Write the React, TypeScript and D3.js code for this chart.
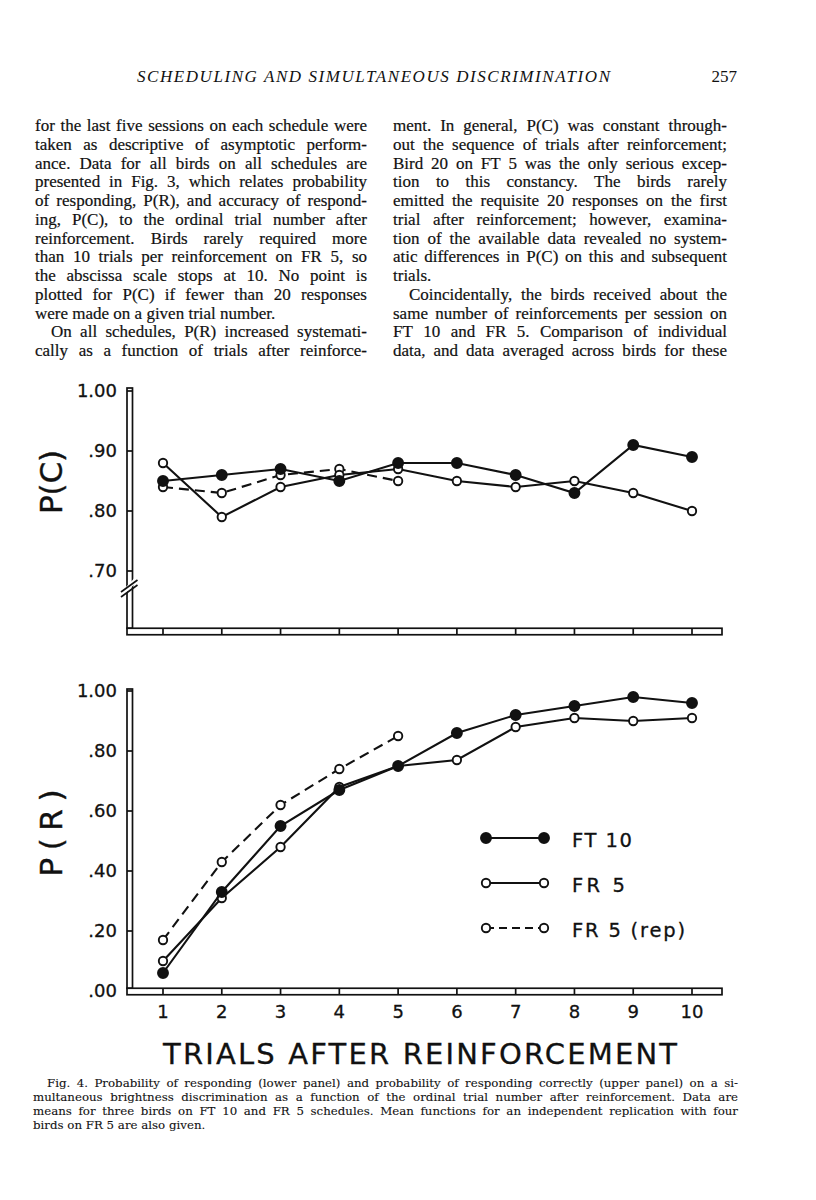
import React from 'react';
import * as d3 from 'd3';

// ---------- data ----------
const trials = [1, 2, 3, 4, 5, 6, 7, 8, 9, 10];
const repTrials = [1, 2, 3, 4, 5];

const pcFT10 = [0.85, 0.86, 0.87, 0.85, 0.88, 0.88, 0.86, 0.83, 0.91, 0.89];
const pcFR5 = [0.88, 0.79, 0.84, 0.86, 0.87, 0.85, 0.84, 0.85, 0.83, 0.8];
const pcFR5rep = [0.84, 0.83, 0.86, 0.87, 0.85];

const prFT10 = [0.06, 0.33, 0.55, 0.67, 0.75, 0.86, 0.92, 0.95, 0.98, 0.96];
const prFR5 = [0.1, 0.31, 0.48, 0.68, 0.75, 0.77, 0.88, 0.91, 0.9, 0.91];
const prFR5rep = [0.17, 0.43, 0.62, 0.74, 0.85];

const pcTicks = [1.0, 0.9, 0.8, 0.7];
const pcTickLabels = ['1.00', '.90', '.80', '.70'];
const prTicks = [1.0, 0.8, 0.6, 0.4, 0.2, 0.0];
const prTickLabels = ['1.00', '.80', '.60', '.40', '.20', '.00'];
const xTickLabels = ['1', '2', '3', '4', '5', '6', '7', '8', '9', '10'];
const legendLabels = ['FT 10', 'FR 5', 'FR 5 (rep)'];

const headerText = 'SCHEDULING AND SIMULTANEOUS DISCRIMINATION';
const pageNumber = '257';

const leftColumn = [
  'for the last five sessions on each schedule were',
  'taken as descriptive of asymptotic perform-',
  'ance. Data for all birds on all schedules are',
  'presented in Fig. 3, which relates probability',
  'of responding, P(R), and accuracy of respond-',
  'ing, P(C), to the ordinal trial number after',
  'reinforcement. Birds rarely required more',
  'than 10 trials per reinforcement on FR 5, so',
  'the abscissa scale stops at 10. No point is',
  'plotted for P(C) if fewer than 20 responses',
  'were made on a given trial number.',
  'On all schedules, P(R) increased systemati-',
  'cally as a function of trials after reinforce-',
];
const leftJustify = [1, 1, 1, 1, 1, 1, 1, 1, 1, 1, 0, 1, 1];
const leftIndent = [0, 0, 0, 0, 0, 0, 0, 0, 0, 0, 0, 1, 0];

const rightColumn = [
  'ment. In general, P(C) was constant through-',
  'out the sequence of trials after reinforcement;',
  'Bird 20 on FT 5 was the only serious excep-',
  'tion to this constancy. The birds rarely',
  'emitted the requisite 20 responses on the first',
  'trial after reinforcement; however, examina-',
  'tion of the available data revealed no system-',
  'atic differences in P(C) on this and subsequent',
  'trials.',
  'Coincidentally, the birds received about the',
  'same number of reinforcements per session on',
  'FT 10 and FR 5. Comparison of individual',
  'data, and data averaged across birds for these',
];
const rightJustify = [1, 1, 1, 1, 1, 1, 1, 1, 0, 1, 1, 1, 1];
const rightIndent = [0, 0, 0, 0, 0, 0, 0, 0, 0, 1, 0, 0, 0];

const captionLines = [
  'Fig. 4. Probability of responding (lower panel) and probability of responding correctly (upper panel) on a si-',
  'multaneous brightness discrimination as a function of the ordinal trial number after reinforcement. Data are',
  'means for three birds on FT 10 and FR 5 schedules. Mean functions for an independent replication with four',
  'birds on FR 5 are also given.',
];
const captionJustify = [1, 1, 1, 0];
const captionIndent = [1, 0, 0, 0];

const titleText = 'TRIALS AFTER REINFORCEMENT';

// ---------- helpers ----------
const SERIF = "'Liberation Serif', 'Times New Roman', serif";
const CAP_SERIF = "'DejaVu Serif', serif";
const SANS = "'DejaVu Sans', sans-serif";

let measureCtx: CanvasRenderingContext2D | null = null;
function measure(text: string, font: string): number {
  if (!measureCtx && typeof document !== 'undefined') {
    measureCtx = document.createElement('canvas').getContext('2d');
  }
  if (!measureCtx) return text.length * 7;
  measureCtx.font = font;
  return measureCtx.measureText(text).width;
}

function JustLine(props: {
  text: string; x: number; y: number; width: number; size: number; justify: boolean; thick?: number;
  family?: string;
}) {
  const { text, x, y, width, size, justify, thick } = props;
  const family = props.family || SERIF;
  const words = text.split(' ');
  const font = `normal ${size}px ${family}`;
  const common = {
    fontFamily: family, fontSize: size, fill: '#111',
    stroke: thick ? '#111' : undefined, strokeWidth: thick || undefined,
  };
  if (!justify || words.length < 2) {
    return (
      <text x={x} y={y} {...common}>
        {text}
      </text>
    );
  }
  const widths = words.map((w) => measure(w, font));
  const total = widths.reduce((a, b) => a + b, 0);
  const gap = (width - total) / (words.length - 1);
  let cx = x;
  return (
    <text y={y} {...common}>
      {words.map((w, i) => {
        const el = (
          <tspan key={i} x={cx}>
            {w}
          </tspan>
        );
        cx += widths[i] + gap;
        return el;
      })}
    </text>
  );
}

// ---------- layout ----------
const X_AXIS_LEFT = 127;
const X_AXIS_RIGHT = 722;
const BAR = 6.5;

const x = d3.scaleLinear().domain([1, 10]).range([163, 692]);
const yTop = d3.scaleLinear().domain([0.6, 1.0]).range([631, 391]);
const yBot = d3.scaleLinear().domain([0, 1]).range([991, 691]);

function Series(props: {
  xs: number[]; ys: number[]; y: d3.ScaleLinear<number, number>; filled: boolean; dashed: boolean;
}) {
  const { xs, ys, y, filled, dashed } = props;
  const pts = xs.map((t, i) => [x(t), y(ys[i])] as [number, number]);
  const line = d3.line();
  return (
    <g>
      <path d={line(pts) || ''} fill="none" stroke="#111" strokeWidth={2.1}
        strokeDasharray={dashed ? '10 6' : undefined} />
      {pts.map((p, i) => (
        <circle key={i} cx={p[0]} cy={p[1]} r={filled ? 5 : 4.2}
          fill={filled ? '#111' : '#fff'} stroke="#111" strokeWidth={1.9} />
      ))}
    </g>
  );
}

function Frame(props: {
  y: d3.ScaleLinear<number, number>; topY: number; axisY: number; ticks: number[]; labels: string[];
  brk?: boolean;
}) {
  const { y, topY, axisY, ticks, labels, brk } = props;
  const vx = X_AXIS_LEFT;
  const hTop = axisY - BAR / 2;
  return (
    <g>
      <rect x={vx} y={topY} width={BAR - 1} height={hTop - topY} fill="#fff" stroke="#111" strokeWidth={1.7} />
      {ticks.map((t, i) => (
        <line key={'t' + i} x1={vx} x2={vx + BAR - 1} y1={y(t)} y2={y(t)} stroke="#111" strokeWidth={1.7} />
      ))}
      <rect x={vx} y={hTop} width={X_AXIS_RIGHT - vx} height={BAR} fill="#fff" stroke="#111" strokeWidth={1.7} />
      {trials.map((t) => (
        <line key={'x' + t} x1={x(t)} x2={x(t)} y1={hTop} y2={hTop + BAR} stroke="#111" strokeWidth={1.7} />
      ))}
      {ticks.map((t, i) => (
        <text key={'l' + i} x={117} y={y(t)} dy="0.36em" textAnchor="end" fontFamily={SANS} fontSize={18}
          fill="#111" stroke="#111" strokeWidth={0.3}>
          {labels[i]}
        </text>
      ))}
      {brk && (
        <g>
          <polygon points={`${vx - 1},${y(0.68) + 4} ${vx + BAR + 1},${y(0.68) - 5} ${vx + BAR + 1},${y(0.68) + 1} ${vx - 1},${y(0.68) + 10}`} fill="#fff" />
          <line x1={vx - 6} y1={y(0.68) + 9} x2={vx + BAR + 4} y2={y(0.68) - 3} stroke="#111" strokeWidth={1.7} />
          <line x1={vx - 6} y1={y(0.68) + 14} x2={vx + BAR + 4} y2={y(0.68) + 2} stroke="#111" strokeWidth={1.7} />
        </g>
      )}
    </g>
  );
}

export default function App() {
  const bodyTop = 131;
  const lead = 18.75;
  const leftX = 35;
  const leftW = 332;
  const rightX = 393;
  const rightW = 334;
  const indent = 16;

  const legendRows = [838, 883, 928];
  const legendFilled = [true, false, false];
  const legendDashed = [false, false, true];
  const legendTextLen = [60, 53, 113];

  return (
    <svg width={816} height={1200} style={{ position: 'absolute', left: 0, top: 0, background: '#fff' }}>
      <rect x={0} y={0} width={816} height={1200} fill="#fff" />

      {/* running header */}
      <text x={137} y={82} fontFamily={SERIF} fontStyle="italic" fontSize={17} textLength={473}
        lengthAdjust="spacing" fill="#111">
        {headerText}
      </text>
      <text x={737} y={82} textAnchor="end" fontFamily={SERIF} fontSize={17} fill="#111">
        {pageNumber}
      </text>

      {/* body text */}
      {leftColumn.map((t, i) => (
        <JustLine key={'lc' + i} text={t} x={leftX + (leftIndent[i] ? indent : 0)} y={bodyTop + i * lead}
          width={leftW - (leftIndent[i] ? indent : 0)} size={17} justify={!!leftJustify[i]} thick={0.2} />
      ))}
      {rightColumn.map((t, i) => (
        <JustLine key={'rc' + i} text={t} x={rightX + (rightIndent[i] ? indent : 0)} y={bodyTop + i * lead}
          width={rightW - (rightIndent[i] ? indent : 0)} size={17} justify={!!rightJustify[i]} thick={0.2} />
      ))}

      {/* top panel: P(C) */}
      <Frame y={yTop} topY={388} axisY={631.5} ticks={pcTicks} labels={pcTickLabels} brk />
      <text transform="translate(62,482) rotate(-90)" textAnchor="middle" fontFamily={SANS} fontSize={31}
        textLength={64} lengthAdjust="spacing" fill="#111" stroke="#111" strokeWidth={0.4}>
        P(C)
      </text>
      <Series xs={repTrials} ys={pcFR5rep} y={yTop} filled={false} dashed />
      <Series xs={trials} ys={pcFR5} y={yTop} filled={false} dashed={false} />
      <Series xs={trials} ys={pcFT10} y={yTop} filled dashed={false} />

      {/* bottom panel: P(R) */}
      <Frame y={yBot} topY={689} axisY={991.5} ticks={prTicks} labels={prTickLabels} />
      <text transform="translate(62,833) rotate(-90)" textAnchor="middle" fontFamily={SANS} fontSize={31}
        textLength={87} lengthAdjust="spacing" fill="#111" stroke="#111" strokeWidth={0.4}>
        P(R)
      </text>
      <Series xs={repTrials} ys={prFR5rep} y={yBot} filled={false} dashed />
      <Series xs={trials} ys={prFR5} y={yBot} filled={false} dashed={false} />
      <Series xs={trials} ys={prFT10} y={yBot} filled dashed={false} />

      {/* legend */}
      {legendLabels.map((lab, i) => (
        <g key={'lg' + i}>
          <line x1={486} x2={544} y1={legendRows[i]} y2={legendRows[i]} stroke="#111" strokeWidth={2.1}
            strokeDasharray={legendDashed[i] ? '8 5' : undefined} />
          {[486, 544].map((cx) => (
            <circle key={cx} cx={cx} cy={legendRows[i]} r={legendFilled[i] ? 5 : 4.2}
              fill={legendFilled[i] ? '#111' : '#fff'} stroke="#111" strokeWidth={1.9} />
          ))}
          <text x={572} y={legendRows[i] + 9} fontFamily={SANS} fontSize={19.5} textLength={legendTextLen[i]}
            lengthAdjust="spacing" fill="#111" stroke="#111" strokeWidth={0.3}>
            {lab}
          </text>
        </g>
      ))}

      {/* x tick labels */}
      {trials.map((t, i) => (
        <text key={'xt' + t} x={x(t)} y={1018} textAnchor="middle" fontFamily={SANS} fontSize={18} fill="#111"
          stroke="#111" strokeWidth={0.3}>
          {xTickLabels[i]}
        </text>
      ))}

      {/* x axis title */}
      <text x={163} y={1064} fontFamily={SANS} fontSize={29} textLength={514} lengthAdjust="spacing" fill="#111"
        stroke="#111" strokeWidth={0.3}>
        {titleText}
      </text>

      {/* caption */}
      {captionLines.map((t, i) => (
        <JustLine key={'cap' + i} text={t} x={33 + (captionIndent[i] ? 14 : 0)} y={1087 + i * 14}
          width={705 - (captionIndent[i] ? 14 : 0)} size={11.8} justify={!!captionJustify[i]}
          family={CAP_SERIF} thick={0.1} />
      ))}
    </svg>
  );
}
